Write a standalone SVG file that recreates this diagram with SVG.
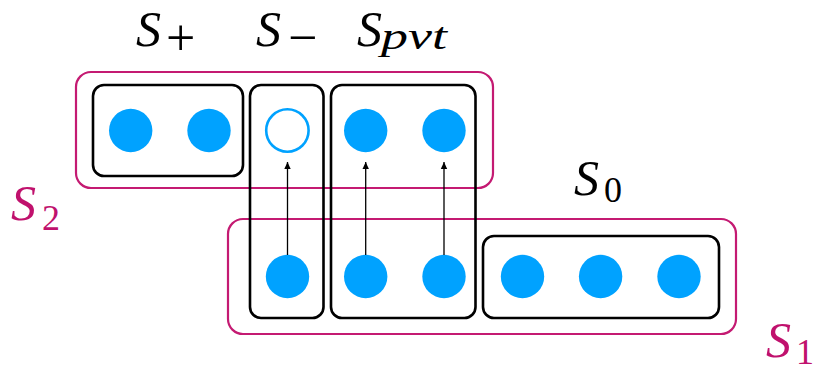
<svg xmlns="http://www.w3.org/2000/svg" width="815" height="376" viewBox="0 0 815 376">
<style>
.set{fill:none;stroke:#c41a72;stroke-width:2.2}
.box{fill:none;stroke:#000;stroke-width:2.6}
.dot{fill:#00a2ff}
.hol{fill:#fff;stroke:#00a2ff;stroke-width:2.6}
.arr{stroke:#000;stroke-width:1.3;fill:none;marker-end:url(#ah)}
.lbl{font-family:"Liberation Serif","DejaVu Serif",serif;font-style:italic;font-size:50px;fill:#000}
.sub{font-size:38px}
.op{font-style:normal;font-size:52px}
.num{font-style:normal;font-size:36px}
.mag{fill:#c0116d}
</style>
<defs>
<marker id="ah" markerWidth="8" markerHeight="8" refX="7" refY="4" orient="auto" markerUnits="userSpaceOnUse">
<path d="M0,0.8 L7,4 L0,7.2 Z" fill="#000"/>
</marker>
</defs>
<g id="S2"><rect class="set" x="76" y="72" width="417" height="116" rx="15"/></g>
<g id="S1"><rect class="set" x="228" y="219" width="508" height="115" rx="15"/></g>
<g id="Splus">
<rect class="box" x="93" y="85" width="150" height="91" rx="11"/>
<circle class="dot" cx="130.7" cy="130.5" r="21.7"/>
<circle class="dot" cx="209" cy="130.5" r="21.7"/>
</g>
<g id="Sminus">
<rect class="box" x="250" y="85" width="73.5" height="233" rx="11"/>
<circle class="hol" cx="287.4" cy="130.5" r="21.2"/>
<circle class="dot" cx="287.5" cy="276.5" r="21.7"/>
</g>
<g id="Spvt">
<rect class="box" x="331" y="85" width="144.5" height="233" rx="11"/>
<circle class="dot" cx="365.7" cy="130.5" r="21.7"/>
<circle class="dot" cx="444" cy="130.5" r="21.7"/>
<circle class="dot" cx="365.7" cy="276.5" r="21.7"/>
<circle class="dot" cx="444" cy="276.5" r="21.7"/>
</g>
<g id="S0">
<rect class="box" x="483" y="236" width="236" height="82" rx="11"/>
<circle class="dot" cx="522.5" cy="276.5" r="21.7"/>
<circle class="dot" cx="600.6" cy="276.5" r="21.7"/>
<circle class="dot" cx="679" cy="276.5" r="21.7"/>
</g>
<g id="connectors">
<line class="arr" x1="287.5" y1="255" x2="287.5" y2="162"/>
<line class="arr" x1="365.7" y1="255" x2="365.7" y2="162"/>
<line class="arr" x1="444" y1="255" x2="444" y2="162"/>
</g>
<g id="labels">
<text class="lbl" x="136" y="46">S<tspan class="op" x="166" y="55">+</tspan></text>
<text class="lbl" x="256" y="46">S<tspan class="op" x="288" y="55">−</tspan></text>
<text class="lbl" x="357" y="46">S<tspan class="sub" x="381" y="49" textLength="66" lengthAdjust="spacingAndGlyphs">pvt</tspan></text>
<text class="lbl" x="574" y="195">S<tspan class="num" x="604" y="202">0</tspan></text>
<text class="lbl mag" x="766" y="357">S<tspan class="num" x="796" y="364">1</tspan></text>
<text class="lbl mag" x="11" y="220">S<tspan class="num" x="42" y="230">2</tspan></text>
</g>
</svg>
